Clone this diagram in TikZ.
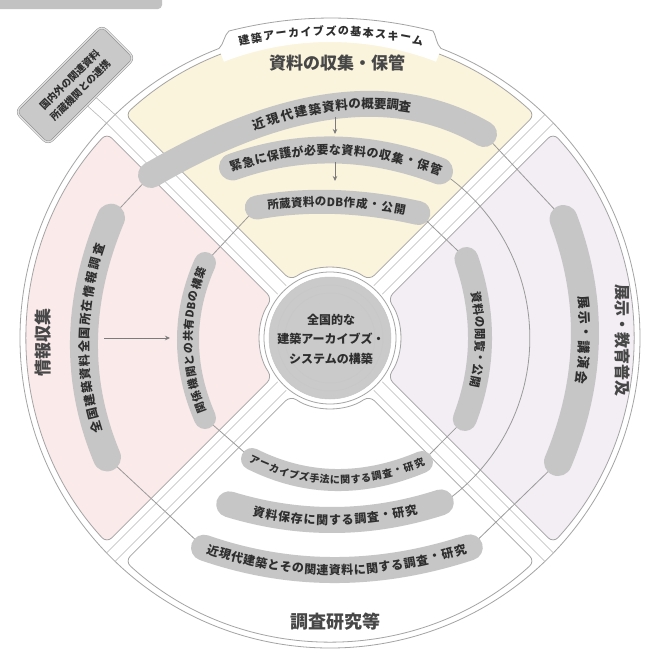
\documentclass[tikz,border=0pt]{standalone}
\usepackage{fontspec}
\newfontfamily\cjk{Noto Sans CJK JP}
\usetikzlibrary{calc,arrows.meta}
\definecolor{yel}{HTML}{FBF4DC}
\definecolor{pnk}{HTML}{FAEAEA}
\definecolor{lav}{HTML}{F3EDF4}
\definecolor{edgec}{HTML}{A4A4A4}
\definecolor{bandc}{HTML}{C6C6C6}
\definecolor{ink}{HTML}{2E2E2E}
\definecolor{tink}{HTML}{474747}
\definecolor{thinc}{HTML}{9A9A9A}
\definecolor{roadc}{HTML}{B8B8B8}
\definecolor{discc}{HTML}{CACACA}
\definecolor{boxc}{HTML}{C9C9C9}
\definecolor{barc}{HTML}{C2C2C2}

\newcommand\sector[2]{%
  \path[#2] ($(C)+(#1-45+2.46:303)$) arc[start angle=#1-45+2.46, end angle=#1+45-2.46, radius=303]
   -- ($(C)+(#1+45-10.7:70)$) arc[start angle=#1+45-10.7, end angle=#1-45+10.7, radius=70] -- cycle;}

\newcommand\defband[4]{%
  \coordinate (#1-s) at (#2); \coordinate (#1-c) at (#3); \coordinate (#1-e) at (#4);}
\newcommand\drawband[2]{%
  \draw[bandst, line width=#2] (#1-s) .. controls ($(#1-s)!0.6667!(#1-c)$) and ($(#1-e)!0.6667!(#1-c)$) .. (#1-e);}

\def\DBtok{DB}
\newcommand\setw{\ifx\chr\DBtok\def\wt{1.35}\else\def\wt{1}\fi}
% #1 band, #2 dt per character, #3 style, #4 characters
\newcommand\bandtext[4]{%
  \gdef\cum{0}%
  \foreach \chr in {#4} {\setw\pgfmathsetmacro\tmp{\cum+\wt}\xdef\cum{\tmp}}%
  \xdef\total{\cum}\gdef\cum{0}%
  \foreach \chr in {#4} {%
    \setw
    \pgfmathsetmacro\tp{0.5+(\cum+\wt/2-\total/2)*#2}%
    \path (#1-s) .. controls ($(#1-s)!0.6667!(#1-c)$) and ($(#1-e)!0.6667!(#1-c)$) .. (#1-e)
      node[pos=\tp, sloped, allow upside down, #3] {\chr};
    \pgfmathsetmacro\tmp{\cum+\wt}\xdef\cum{\tmp}}}

\begin{document}
\begin{tikzpicture}[x=1pt,y=1pt,
  bandst/.style={draw=bandc, line cap=round},
  bf/.style={font=\cjk\bfseries\fontsize{#1}{#1}\selectfont, text=ink, inner sep=0pt},
  ttl/.style={font=\cjk\bfseries\fontsize{#1}{#1}\selectfont, text=tink, inner sep=0pt},
  conn/.style={draw=thinc, line width=0.8pt},
  road/.style={draw=roadc, line width=0.6pt},
  arr/.style={draw=thinc!80!black, line width=0.8pt, -{Stealth[length=5pt,width=4.5pt]}},
  secst/.style={draw=edgec, line width=0.8pt, rounded corners=7pt},
  boxst/.style={draw=thinc!85!black, double=white!88!black, double distance=1.4pt, fill=boxc,
    rounded corners=6pt, minimum width=122pt, minimum height=46pt, align=center,
    font=\cjk\bfseries\fontsize{10}{15}\selectfont, text=ink, inner sep=2pt}]
\useasboundingbox (0,0) rectangle (648,-654);
\fill[white] (0,0) rectangle (648,-654);
\coordinate (C) at (330,-338);

% cropped bar at the top left
\fill[barc, rounded corners=4pt] (-6,6) rectangle (162,-9);

% outer ring
\draw[edgec, line width=0.8pt] (C) circle[radius=310];

% four sectors
\sector{90}{fill=yel, secst}
\sector{180}{fill=pnk, secst}
\sector{0}{fill=lav, secst}
\sector{270}{fill=white, secst}

% title tab
\fill[white] ($(C)+(111:310)$) .. controls (224,-44) and (224,-35) .. (229,-31)
  .. controls (297,-13.7) and (365,-13.7) .. (433,-31)
  .. controls (436,-35) and (436,-44) .. ($(C)+(69:310)$)
  -- ($(C)+(69:296)$) arc[start angle=69, end angle=111, radius=296] -- cycle;
\draw[edgec, line width=0.8pt] ($(C)+(111:310)$) .. controls (224,-44) and (224,-35) .. (229,-31)
  .. controls (297,-13.7) and (365,-13.7) .. (433,-31)
  .. controls (436,-35) and (436,-44) .. ($(C)+(69:310)$);
\defband{tab}{238,-42}{331,-20}{424,-42}
\bandtext{tab}{0.0668}{bf=11}{建,築,ア,ー,カ,イ,ブ,ズ,の,基,本,ス,キ,ー,ム}

% roads between the sectors
\foreach \a in {45,135,225,315}{
  \foreach \s in {6,-6}{
    \draw[road] ($(C)+(\a:68)+(\a+90:\s)$) -- ($(C)+(\a:309.9)+(\a+90:\s)$);}}

% box at the top left and its link
\node[boxst, rotate=45] (box) at (75,-85) {国内外の関連資料\\所蔵機関との連携};
\coordinate (ring135) at ($(C)+(135:309.9)$);
\draw[road] ($(box.south)+(45:6)$) -- ($(ring135)+(45:6)$);
\draw[road] ($(box.south)+(225:6)$) -- ($(ring135)+(225:6)$);

% hub
\draw[edgec, fill=white, line width=0.8pt] (C) circle[radius=66];
\fill[discc] (C) circle[radius=61];
\draw[white!78!black, line width=0.5pt] (C) circle[radius=61] (C) circle[radius=53] (C) circle[radius=45];
\node[align=center, font=\cjk\bfseries\fontsize{12}{19.5}\selectfont, text=ink, inner sep=0pt] (hub) at (331,-339)
  {全国的な\\建築アーカイブズ・\\システムの構築};

% band geometry
\defband{TA}{151,-175}{352.5,-57.5}{484,-134}
\defband{TB}{232.5,-167}{334,-131}{439.5,-171}
\defband{TC}{256.8,-207.5}{332.4,-193.75}{418.4,-213}
\defband{RO}{563.5,-219}{609,-339.5}{558,-462}
\defband{RI}{466.4,-259}{494.4,-341}{464.8,-419}
\defband{LO}{107,-457.4}{59,-342.5}{111,-217.7}
\defband{LI}{205,-418}{171,-339.5}{205,-263}
\defband{BI}{252,-459}{333,-499.5}{422,-462}
\defband{BM}{229.2,-504.3}{335,-536.6}{440.8,-502.4}
\defband{BO}{204,-547.7}{333,-592.5}{469.8,-547.4}

% thin links between the bands
\draw[conn] (TA-s) -- (LO-e);
\draw[conn] (LO-s) -- (BO-s);
\draw[conn] (LI-s) -- (BI-s);
\draw[conn] (LI-e) -- (TC-s);
\draw[conn] (TC-e) -- (RI-s);
\draw[conn] (RI-e) -- (BI-e);
\draw[conn] (TA-e) -- (RO-s);
\draw[conn] (RO-e) -- (BO-e);
\draw[conn] (TB-e) arc[start angle=56.75, end angle=-56.3, radius=200];

% bands
\drawband{TA}{26}
\drawband{TB}{27}
\drawband{TC}{24}
\drawband{RO}{28}
\drawband{RI}{24}
\drawband{LO}{28}
\drawband{LI}{22}
\drawband{BI}{22}
\drawband{BM}{26}
\drawband{BO}{26}

% band texts
\bandtext{TA}{0.040}{bf=12.5}{近,現,代,建,築,資,料,の,概,要,調,査}
\bandtext{TB}{0.0604}{bf=12}{緊,急,に,保,護,が,必,要,な,資,料,の,収,集,・,保,管}
\bandtext{TC}{0.0758}{bf=11.5}{所,蔵,資,料,の,DB,作,成,・,公,開}
\bandtext{RO}{0.062}{bf=13}{展,示,・,講,演,会}
\bandtext{RI}{0.075}{bf=11.5}{資,料,の,閲,覧,・,公,開}
\bandtext{LO}{0.057}{bf=12}{全,国,建,築,資,料,全,国,所,在,情,報,調,査}
\bandtext{LI}{0.077}{bf=11}{関,係,機,関,と,の,共,有,DB,の,構,築}
\bandtext{BI}{0.0606}{bf=10}{ア,ー,カ,イ,ブ,ズ,手,法,に,関,す,る,調,査,・,研,究}
\bandtext{BM}{0.060}{bf=12}{資,料,保,存,に,関,す,る,調,査,・,研,究}
\bandtext{BO}{0.0465}{bf=12}{近,現,代,建,築,と,そ,の,関,連,資,料,に,関,す,る,調,査,・,研,究}

% arrows
\coordinate (a1s) at (335,-117); \coordinate (a1e) at (335,-134);
\coordinate (a2s) at (335,-162); \coordinate (a2e) at (335,-181);
\coordinate (a3s) at (104,-338); \coordinate (a3e) at (170,-338);
\draw[arr] (a1s) -- (a1e);
\draw[arr] (a2s) -- (a2e);
\draw[arr] (a3s) -- (a3e);

% sector titles
\node[ttl=17] (t1) at (337,-63) {資料の収集・保管};
\node[ttl=17, rotate=90] (t2) at (43,-342) {情報収集};
\node[ttl=16, rotate=-90] (t3) at (623,-340) {展示・教育普及};
\node[ttl=18] (t4) at (335,-622) {調査研究等};
\end{tikzpicture}
\end{document}
